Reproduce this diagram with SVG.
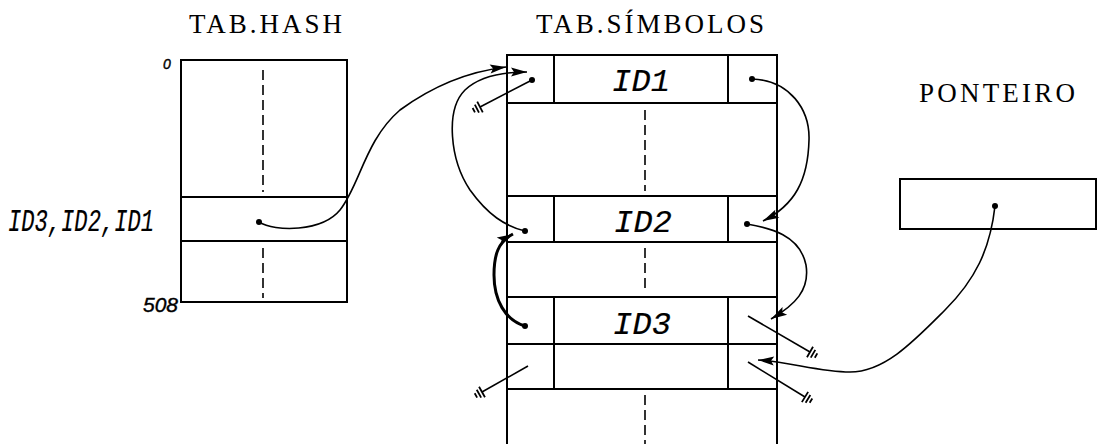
<svg xmlns="http://www.w3.org/2000/svg" width="1101" height="444" viewBox="0 0 1101 444">
<style>
.bx{fill:none;stroke:#000;stroke-width:2}
.dash{fill:none;stroke:#000;stroke-width:1.6;stroke-dasharray:10 5}
.title{font-family:"Liberation Serif","Times New Roman",serif;font-size:27px;fill:#000}
.id{font-family:"Liberation Mono","Courier New",monospace;font-style:italic;font-size:32px;fill:#000;stroke:#000;stroke-width:0.2}
.num{font-family:"Liberation Sans",Arial,sans-serif;font-style:italic;fill:#000;stroke:#000;stroke-width:0.4}
.c{fill:none;stroke:#000;stroke-width:1.6}
.dot{fill:#000}
</style>
<defs>
<marker id="ah" markerUnits="userSpaceOnUse" markerWidth="20" markerHeight="12" viewBox="-17 -6 18 12" refX="0" refY="0" orient="auto">
<path d="M0,0 L-16,-4.5 L-13,0 L-16,4.5 Z" fill="#000"/>
</marker>
<marker id="gnd" markerUnits="userSpaceOnUse" markerWidth="14" markerHeight="16" viewBox="-2 -8 12 16" refX="0" refY="0" orient="auto">
<path d="M0,-6 L0,6 M3.5,-4.5 L3.5,4.5 M7,-2.5 L7,2.5" fill="none" stroke="#000" stroke-width="1.8"/>
</marker>
</defs>

<g id="tab-hash">
<text class="title" x="189" y="33" textLength="153" lengthAdjust="spacing">TAB.HASH</text>
<rect class="bx" x="181" y="60" width="166" height="242"/>
<line class="bx" x1="181" y1="197" x2="347" y2="197"/>
<line class="bx" x1="181" y1="241" x2="347" y2="241"/>
<line class="dash" x1="263" y1="70" x2="263" y2="192"/>
<line class="dash" x1="263" y1="248" x2="263" y2="298"/>
<text class="num" x="163" y="69" font-size="14">0</text>
<text class="num" x="143" y="312" font-size="21">508</text>
<text class="id" x="8" y="231" font-size="29" textLength="146" lengthAdjust="spacingAndGlyphs">ID3,ID2,ID1</text>
</g>

<g id="tab-simbolos">
<text class="title" x="536" y="33" textLength="228" lengthAdjust="spacing">TAB.SÍMBOLOS</text>
<path class="bx" d="M507,444 L507,55 L777,55 L777,444"/>
<line class="bx" x1="507" y1="103" x2="777" y2="103"/>
<line class="bx" x1="507" y1="196" x2="777" y2="196"/>
<line class="bx" x1="507" y1="242" x2="777" y2="242"/>
<line class="bx" x1="507" y1="297" x2="777" y2="297"/>
<line class="bx" x1="507" y1="344" x2="777" y2="344"/>
<line class="bx" x1="507" y1="389" x2="777" y2="389"/>
<line class="bx" x1="554" y1="55" x2="554" y2="103"/>
<line class="bx" x1="728" y1="55" x2="728" y2="103"/>
<line class="bx" x1="554" y1="196" x2="554" y2="242"/>
<line class="bx" x1="728" y1="196" x2="728" y2="242"/>
<line class="bx" x1="554" y1="297" x2="554" y2="389"/>
<line class="bx" x1="728" y1="297" x2="728" y2="389"/>
<line class="dash" x1="645" y1="110" x2="645" y2="191"/>
<line class="dash" x1="645" y1="248" x2="645" y2="292"/>
<line class="dash" x1="645" y1="395" x2="645" y2="444"/>
<text class="id" x="612" y="91" textLength="58" lengthAdjust="spacing">ID1</text>
<text class="id" x="614" y="232" textLength="58" lengthAdjust="spacing">ID2</text>
<text class="id" x="613" y="334" textLength="58" lengthAdjust="spacing">ID3</text>
</g>

<g id="ponteiro">
<text class="title" x="919" y="102" textLength="156" lengthAdjust="spacing">PONTEIRO</text>
<rect class="bx" x="900" y="179" width="196" height="50"/>
</g>

<g id="connectors">
<path class="c" d="M259,222 C275,232 322,232 340,210 C360,185 365,140 400,110 C430,88 465,72 506,67" marker-end="url(#ah)"/>
<path class="c" d="M525,231 C505,226 488,215 470,190 C450,160 445,110 465,90 C480,76 505,72 527,72" marker-end="url(#ah)"/>
<line class="c" x1="532" y1="80" x2="480" y2="107" marker-end="url(#gnd)"/>
<path class="c" d="M752,79 C790,80 810,110 809,140 C808,180 795,205 763,221" marker-end="url(#ah)"/>
<path class="c" d="M747,224 C770,228 800,235 806,265 C810,290 795,305 771,319" marker-end="url(#ah)"/>
<path class="c" style="stroke-width:3" d="M525,326 C505,320 494,300 494,275 C494,255 498,242 513,234" marker-end="url(#ah)"/>
<line class="c" x1="748" y1="316" x2="810" y2="352" marker-end="url(#gnd)"/>
<line class="c" x1="528" y1="366" x2="482" y2="392" marker-end="url(#gnd)"/>
<line class="c" x1="748" y1="362" x2="805" y2="397" marker-end="url(#gnd)"/>
<path class="c" d="M995,206 C990,250 975,280 945,310 C915,340 885,372 850,372 C820,372 790,362 758,360" marker-end="url(#ah)"/>
<circle class="dot" cx="259" cy="222" r="3"/>
<circle class="dot" cx="532" cy="80" r="3"/>
<circle class="dot" cx="752" cy="79" r="3"/>
<circle class="dot" cx="525" cy="231" r="3"/>
<circle class="dot" cx="747" cy="224" r="3"/>
<circle class="dot" cx="525" cy="326" r="3"/>
<circle class="dot" cx="995" cy="206" r="3"/>
</g>
</svg>
